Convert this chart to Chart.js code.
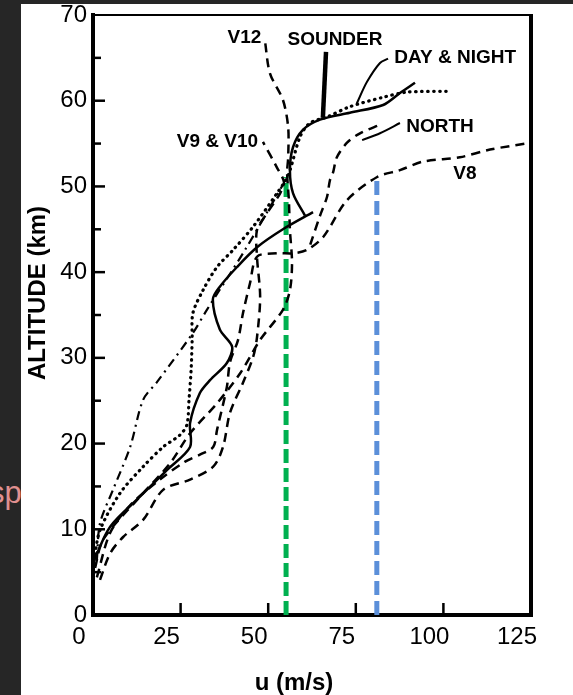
<!DOCTYPE html>
<html><head><meta charset="utf-8">
<script src="https://cdn.jsdelivr.net/npm/chart.js@4.4.1/dist/chart.umd.min.js"></script>
<style>
html,body{margin:0;padding:0;}
body{width:573px;height:695px;background:#262626;position:relative;overflow:hidden;font-family:"Liberation Sans",Arial,sans-serif;}
#sp{position:absolute;left:-11px;top:477px;font-size:31px;line-height:31px;color:#e0908f;}
#panel{position:absolute;left:21px;top:4px;width:552px;height:691px;background:#fff;}
canvas{display:block;}
</style></head><body>
<div id="sp">sp</div>
<div id="panel"><canvas id="c" width="552" height="691"></canvas></div>
<script>
// ---- tick labels ----
const uTicks = [0, 25, 50, 75, 100, 125];
const altTicks = [0, 10, 20, 30, 40, 50, 60, 70];

// ---- series (u in m/s, altitude in km) ----
const solidLowU   = [0.3, 4.9, 13.4, 21.1, 27.7, 27.7, 30.5, 33.4, 38.2, 39.7, 36.2, 34.2, 36.2, 41.1, 46.8, 54.2, 62.8];
const solidLowAlt = [6.4, 10.3, 13.8, 16.9, 19.6, 22.4, 25.9, 27.4, 29.4, 31.3, 33.3, 36.8, 38.3, 40.6, 42.9, 45.0, 47.0];

const solidUpU   = [60.5, 57.1, 56.2, 57.1, 59.9, 64.8, 73.3, 82.8, 87.6, 91.9];
const solidUpAlt = [46.6, 49.2, 51.9, 54.6, 56.6, 57.8, 58.6, 59.5, 60.9, 62.1];

const sounderU   = [65.6, 66.5];
const sounderAlt = [58.0, 65.7];

const dayNightLeadU   = [75.3, 78.2, 81.9, 84.2];
const dayNightLeadAlt = [59.7, 62.2, 64.4, 64.9];

const northLeadU   = [76.8, 81.9, 87.6];
const northLeadAlt = [55.4, 56.2, 57.4];

const dottedU   = [0.3, 2.0, 7.7, 14.3, 20.0, 24.8, 26.8, 27.4, 28.0, 28.3, 28.5, 31.4, 35.4, 40.0, 45.7, 52.5, 55.7, 59.1, 61.9, 66.8, 73.3, 82.8, 89.6, 101.0];
const dottedAlt = [6.4, 9.9, 14.2, 17.3, 19.6, 21.0, 22.2, 25.1, 28.6, 32.1, 35.2, 37.9, 40.6, 42.6, 45.3, 49.2, 51.3, 55.8, 57.4, 58.1, 59.3, 60.4, 61.0, 61.1];

const dashDotU   = [1.1, 2.0, 5.7, 10.6, 14.3, 18.3, 28.5, 32.5, 43.4, 54.2];
const dashDotAlt = [6.4, 10.7, 14.6, 19.6, 25.1, 27.2, 32.9, 35.6, 42.6, 50.2];

const v12U   = [0.6, 2.9, 13.4, 22.0, 27.7, 35.4, 42.0, 47.7, 54.2, 56.2, 56.8, 56.2, 55.9, 55.4, 55.7, 55.7, 54.2, 50.5, 49.1];
const v12Alt = [5.5, 8.8, 13.8, 17.7, 21.2, 24.7, 28.2, 32.1, 35.6, 37.9, 41.1, 44.9, 48.4, 51.6, 53.4, 56.9, 60.1, 63.2, 66.9];

const v910U   = [2.0, 4.9, 8.6, 14.3, 20.0, 27.7, 34.3, 37.1, 39.1, 42.8, 45.7, 46.8, 47.7, 46.8, 46.8, 49.7, 53.4, 54.5, 52.5, 48.5];
const v910Alt = [4.1, 7.2, 9.1, 11.1, 14.6, 15.8, 17.3, 19.6, 23.6, 27.1, 30.1, 32.4, 37.1, 41.8, 44.9, 46.9, 49.2, 50.5, 52.2, 55.2];

const v8U   = [1.1, 4.9, 10.6, 19.1, 26.3, 30.5, 34.3, 35.4, 38.2, 39.1, 41.4, 42.8, 44.8, 46.8, 52.5, 57.1, 61.1, 65.7, 72.5, 81.1, 87.6, 94.2, 104.7, 113.3, 125.0];
const v8Alt = [4.4, 9.6, 12.8, 15.8, 17.9, 18.7, 19.6, 21.6, 26.6, 29.5, 32.1, 35.2, 38.7, 41.8, 42.2, 42.2, 42.6, 44.1, 48.4, 51.1, 51.9, 52.9, 53.4, 54.3, 55.1];

const northU   = [62.0, 64.8, 66.8, 67.6, 68.5, 69.6, 72.5, 76.2, 81.9];
const northAlt = [43.2, 46.6, 48.8, 50.7, 51.6, 53.4, 55.1, 56.2, 57.2];

const greenU   = [55.1, 55.1];
const greenAlt = [0, 51.1];
const blueU    = [81.0, 81.0];
const blueAlt  = [0, 50.8];

// ---- curve labels ----
const curveLabels = ['V12', 'SOUNDER', 'DAY & NIGHT', 'V9 & V10', 'NORTH', 'V8'];
const labelU   = [38.4, 55.5, 86.0, 23.9, 89.4, 102.8];
const labelAlt = [66.7, 66.5, 64.4, 54.6, 56.4, 50.9];

// ---- build ----
const pts = (us, as) => us.map((u, i) => ({ x: u, y: as[i] }));
const BLK = '#000000';
function ds(label, us, as, style) {
  return Object.assign({
    label, data: pts(us, as), showLine: true, pointRadius: 0, pointHoverRadius: 0,
    borderColor: BLK, backgroundColor: BLK, borderWidth: 2.5, tension: 0.3, fill: false
  }, style);
}
const DASH = [9, 6];
const datasets = [
  ds('Day (solid)', solidLowU, solidLowAlt, {}),
  ds('Day (solid, upper)', solidUpU, solidUpAlt, {}),
  ds('Sounder', sounderU, sounderAlt, { borderWidth: 4.5, tension: 0 }),
  ds('Day & Night leader', dayNightLeadU, dayNightLeadAlt, { borderWidth: 2 }),
  ds('North leader', northLeadU, northLeadAlt, { borderWidth: 2 }),
  ds('Night (dotted)', dottedU, dottedAlt, { borderDash: [0.5, 5.5], borderCapStyle: 'round', borderWidth: 3.2 }),
  ds('V9 (dash-dot)', dashDotU, dashDotAlt, { borderDash: [9, 5, 2, 5], borderWidth: 2.2 }),
  ds('V12', v12U, v12Alt, { borderDash: DASH }),
  ds('V9 & V10', v910U, v910Alt, { borderDash: DASH }),
  ds('V8', v8U, v8Alt, { borderDash: DASH }),
  ds('North', northU, northAlt, { borderDash: DASH }),
  ds('Green marker', greenU, greenAlt, { borderColor: '#00B050', borderWidth: 5, borderDash: [14, 5], tension: 0 }),
  ds('Blue marker', blueU, blueAlt, { borderColor: '#5B8FD9', borderWidth: 5, borderDash: [14, 6], tension: 0 })
];

const FONT = '"Liberation Sans", Arial, sans-serif';
const overlay = {
  id: 'overlay',
  afterDraw(chart) {
    const { ctx, chartArea: a, scales: { x, y } } = chart;
    ctx.save();
    ctx.strokeStyle = BLK; ctx.lineCap = 'butt';
    ctx.lineWidth = 2.5;
    for (let v = 5; v < 70; v += 5) {
      const py = y.getPixelForValue(v);
      const len = v % 10 === 0 ? 12 : 8;
      ctx.beginPath(); ctx.moveTo(a.left, py); ctx.lineTo(a.left + len, py); ctx.stroke();
    }
    uTicks.slice(1, -1).forEach(v => {
      const px = x.getPixelForValue(v);
      ctx.beginPath(); ctx.moveTo(px, a.bottom); ctx.lineTo(px, a.bottom - 12); ctx.stroke();
    });
    ctx.lineWidth = 2;
    ctx.beginPath(); ctx.moveTo(a.left, a.top); ctx.lineTo(a.right, a.top); ctx.stroke();
    ctx.lineWidth = 4;
    ctx.beginPath(); ctx.moveTo(a.right, a.top - 1); ctx.lineTo(a.right, a.bottom + 2); ctx.stroke();

    ctx.fillStyle = BLK;
    ctx.font = 'bold 19px ' + FONT;
    ctx.textAlign = 'left'; ctx.textBaseline = 'alphabetic';
    curveLabels.forEach((t, i) => ctx.fillText(t, x.getPixelForValue(labelU[i]), y.getPixelForValue(labelAlt[i])));

    ctx.font = 'bold 24px ' + FONT;
    ctx.textAlign = 'center';
    ctx.fillText('u (m/s)', 273, 686);
    ctx.translate(24, 289); ctx.rotate(-Math.PI / 2);
    ctx.fillText('ALTITUDE (km)', 0, 0);
    ctx.restore();
  }
};

new Chart(document.getElementById('c'), {
  type: 'scatter',
  data: { datasets },
  options: {
    responsive: false, animation: false, devicePixelRatio: 1,
    layout: { padding: { top: 11, right: 42, left: 0, bottom: 0 } },
    plugins: { legend: { display: false }, tooltip: { enabled: false } },
    scales: {
      x: {
        type: 'linear', min: 0, max: 125,
        afterBuildTicks: s => { s.ticks = uTicks.map(v => ({ value: v })); },
        ticks: { color: BLK, font: { family: FONT, size: 24 }, padding: 8, labelOffset: -14, maxRotation: 0 },
        grid: { drawOnChartArea: false, drawTicks: false },
        border: { display: true, color: BLK, width: 4 },
        afterFit: s => { s.height = 80; s.paddingLeft = 0; s.paddingRight = 0; }
      },
      y: {
        type: 'linear', min: 0, max: 70,
        afterBuildTicks: s => { s.ticks = altTicks.map(v => ({ value: v })); },
        ticks: { color: BLK, font: { family: FONT, size: 24 }, padding: 6 },
        grid: { drawOnChartArea: false, drawTicks: false },
        border: { display: true, color: BLK, width: 4 },
        afterFit: s => { s.width = 72; s.paddingTop = 0; s.paddingBottom = 0; }
      }
    }
  },
  plugins: [overlay]
});
</script>
</body></html>
